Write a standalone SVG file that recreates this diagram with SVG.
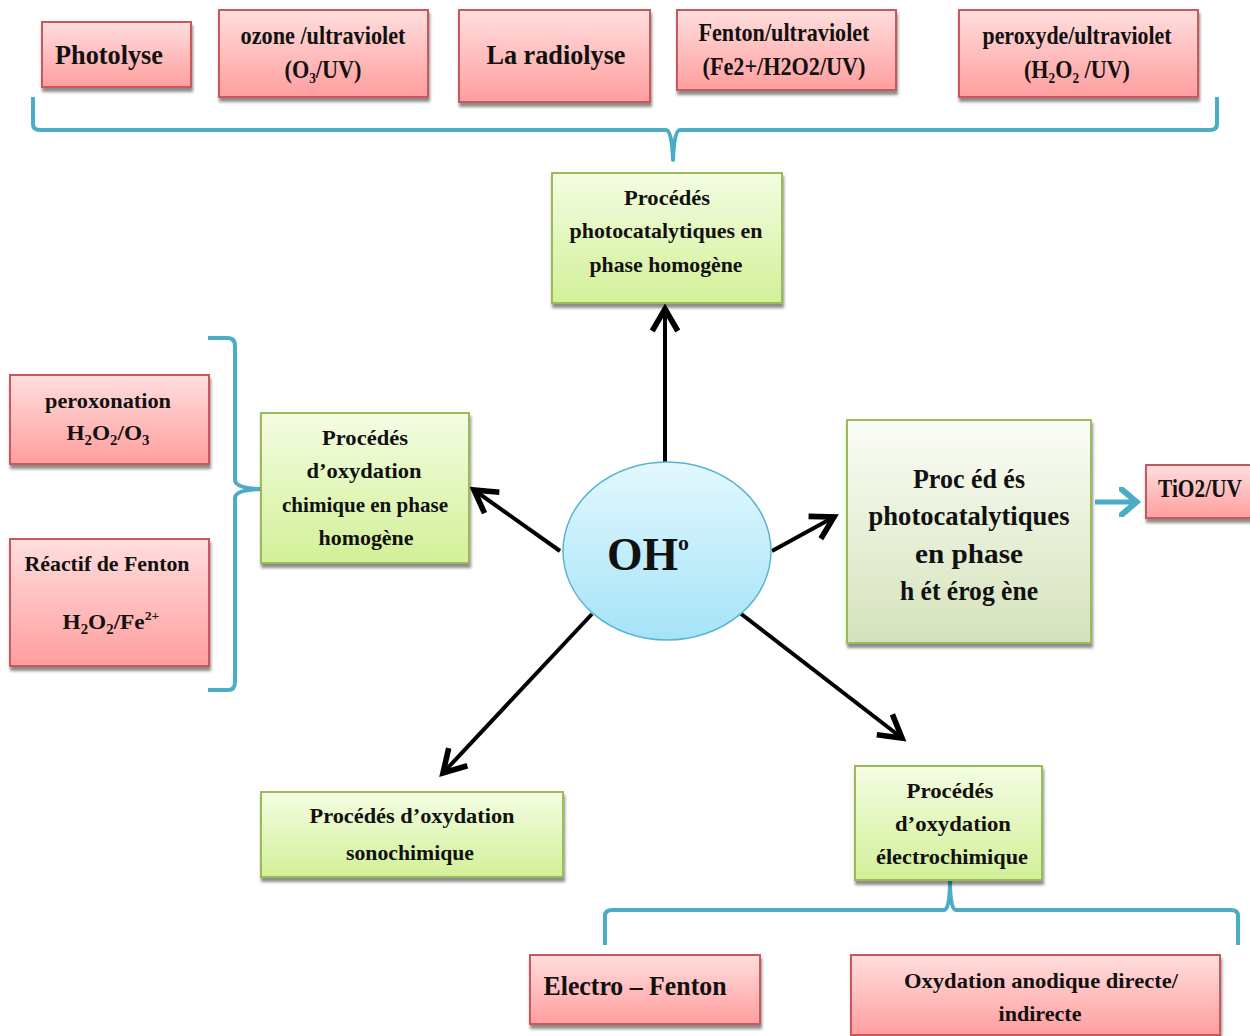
<svg xmlns="http://www.w3.org/2000/svg" width="1250" height="1036" viewBox="0 0 1250 1036">
<defs>
<linearGradient id="gRed" x1="0" y1="0" x2="0" y2="1"><stop offset="0" stop-color="#ffdede"/><stop offset="1" stop-color="#ff9e9e"/></linearGradient>
<linearGradient id="gGreen" x1="0" y1="0" x2="0" y2="1"><stop offset="0" stop-color="#f4fde2"/><stop offset="1" stop-color="#d2f098"/></linearGradient>
<linearGradient id="gGreen2" x1="0" y1="0" x2="0" y2="1"><stop offset="0" stop-color="#fbfdf6"/><stop offset="1" stop-color="#d5e2bb"/></linearGradient>
<linearGradient id="gBlue" x1="0" y1="0" x2="0" y2="1"><stop offset="0" stop-color="#e2f8fe"/><stop offset="1" stop-color="#a6e3f8"/></linearGradient>
<filter id="sh" x="-10%" y="-10%" width="125%" height="130%"><feDropShadow dx="1" dy="4" stdDeviation="1.5" flood-color="#000" flood-opacity="0.45"/></filter>
<marker id="ah" markerWidth="8" markerHeight="8" refX="6" refY="4" orient="auto" markerUnits="strokeWidth"><path d="M0.5,0.8 L6,4 L0.5,7.2" fill="none" stroke="#000" stroke-width="1.4"/></marker>
<marker id="bh" markerWidth="6" markerHeight="6" refX="3" refY="3" orient="auto" markerUnits="strokeWidth"><path d="M0,0 L3.5,3 L0,6" fill="none" stroke="#4bacc6" stroke-width="1.2"/></marker>
</defs>
<style>
.red{fill:url(#gRed);stroke:#c8585a;stroke-width:2;filter:url(#sh)}
.grn{fill:url(#gGreen);stroke:#9bbb59;stroke-width:2;filter:url(#sh)}
.grn2{fill:url(#gGreen2);stroke:#9bbb59;stroke-width:2;filter:url(#sh)}
text{font-family:"Liberation Serif","Times New Roman",serif;font-weight:bold;fill:#111;text-anchor:middle}
.t24{font-size:25px}
.t22{font-size:22px}
.t26{font-size:27px}
.brace{fill:none;stroke:#4bacc6;stroke-width:4;stroke-linejoin:round}
.arr{fill:none;stroke:#000;stroke-width:4;marker-end:url(#ah)}
</style>
<rect width="1250" height="1036" fill="#fff"/>

<g id="connectors">
<path class="brace" d="M33,97 L33,124 Q33,130 40,130 L666,130 Q672,130 673,160 Q674,130 680,130 L1210,130 Q1217,130 1217,124 L1217,97"/>
<path class="brace" d="M208,338 L228,338 Q235,338 235,346 L235,480 Q235,488 260,489 Q235,490 235,498 L235,682 Q235,690 228,690 L208,690"/>
<path class="brace" d="M605,945 L605,916 Q605,910 612,910 L944,910 Q950,910 950,880 Q950,910 956,910 L1231,910 Q1238,910 1238,916 L1238,945"/>
<line class="arr" x1="665" y1="462" x2="665" y2="309"/>
<line class="arr" x1="560" y1="551" x2="474" y2="490"/>
<line class="arr" x1="772" y1="551" x2="834" y2="517"/>
<line class="arr" x1="592" y1="614" x2="443" y2="773"/>
<line class="arr" x1="740" y1="613" x2="902" y2="738"/>
<line x1="1095" y1="502" x2="1134" y2="502" stroke="#4bacc6" stroke-width="5" marker-end="url(#bh)"/>
</g>

<g id="n-photolyse"><rect class="red" x="42" y="22" width="149" height="65"/><text class="t26" x="109" y="64" textLength="108" lengthAdjust="spacingAndGlyphs">Photolyse</text></g>
<g id="n-ozone"><rect class="red" x="219" y="10" width="209" height="87"/><text class="t24" x="323" y="44" textLength="165" lengthAdjust="spacingAndGlyphs">ozone /ultraviolet</text><text class="t24" x="323" y="78" textLength="77" lengthAdjust="spacingAndGlyphs">(O<tspan font-size="15" baseline-shift="-5">3</tspan>/UV)</text></g>
<g id="n-radiolyse"><rect class="red" x="459" y="10" width="191" height="92"/><text class="t26" x="556" y="64" textLength="139" lengthAdjust="spacingAndGlyphs">La radiolyse</text></g>
<g id="n-fentonuv"><rect class="red" x="677" y="10" width="219" height="80"/><text class="t24" x="784" y="41" textLength="171" lengthAdjust="spacingAndGlyphs">Fenton/ultraviolet</text><text class="t24" x="784" y="75" textLength="163" lengthAdjust="spacingAndGlyphs">(Fe2+/H2O2/UV)</text></g>
<g id="n-peroxyde"><rect class="red" x="959" y="10" width="239" height="87"/><text class="t24" x="1077" y="44" textLength="189" lengthAdjust="spacingAndGlyphs">peroxyde/ultraviolet</text><text class="t24" x="1077" y="78" textLength="106" lengthAdjust="spacingAndGlyphs">(H<tspan font-size="15" baseline-shift="-5">2</tspan>O<tspan font-size="15" baseline-shift="-5">2</tspan> /UV)</text></g>

<g id="n-photohomo"><rect class="grn" x="552" y="173" width="230" height="130"/><text class="t22" x="667" y="205" textLength="86" lengthAdjust="spacingAndGlyphs">Procédés</text><text class="t22" x="666" y="238" textLength="193" lengthAdjust="spacingAndGlyphs">photocatalytiques en</text><text class="t22" x="666" y="272" textLength="153" lengthAdjust="spacingAndGlyphs">phase homogène</text></g>

<g id="n-peroxonation"><rect class="red" x="10" y="375" width="199" height="89"/><text class="t22" x="108" y="408" textLength="126" lengthAdjust="spacingAndGlyphs">peroxonation</text><text class="t22" x="108" y="440" textLength="83" lengthAdjust="spacingAndGlyphs">H<tspan font-size="14" baseline-shift="-5">2</tspan>O<tspan font-size="14" baseline-shift="-5">2</tspan>/O<tspan font-size="14" baseline-shift="-5">3</tspan></text></g>
<g id="n-fenton"><rect class="red" x="10" y="539" width="199" height="127"/><text class="t22" x="107" y="571" textLength="165" lengthAdjust="spacingAndGlyphs">Réactif de Fenton</text><text class="t22" x="111" y="629" textLength="97" lengthAdjust="spacingAndGlyphs">H<tspan font-size="14" baseline-shift="-5">2</tspan>O<tspan font-size="14" baseline-shift="-5">2</tspan>/Fe<tspan font-size="13" baseline-shift="9">2+</tspan></text></g>

<g id="n-chimique"><rect class="grn" x="261" y="413" width="208" height="150"/><text class="t22" x="365" y="445" textLength="86" lengthAdjust="spacingAndGlyphs">Procédés</text><text class="t22" x="364" y="478" textLength="115" lengthAdjust="spacingAndGlyphs">d’oxydation</text><text class="t22" x="365" y="512" textLength="166" lengthAdjust="spacingAndGlyphs">chimique en phase</text><text class="t22" x="366" y="545" textLength="95" lengthAdjust="spacingAndGlyphs">homogène</text></g>

<g id="n-oh"><ellipse cx="667" cy="551" rx="104" ry="89" fill="url(#gBlue)" stroke="#5ab4d0" stroke-width="1.5"/><text x="648" y="570" font-size="46" textLength="82" lengthAdjust="spacingAndGlyphs">OH<tspan font-size="22" baseline-shift="20">o</tspan></text></g>

<g id="n-photohetero"><rect class="grn2" x="847" y="420" width="244" height="223"/><text class="t26" x="969" y="488" textLength="112" lengthAdjust="spacingAndGlyphs">Proc éd és</text><text class="t26" x="969" y="525" textLength="201" lengthAdjust="spacingAndGlyphs">photocatalytiques</text><text class="t26" x="969" y="563" textLength="108" lengthAdjust="spacingAndGlyphs">en phase</text><text class="t26" x="969" y="600" textLength="138" lengthAdjust="spacingAndGlyphs">h ét érog ène</text></g>

<g id="n-tio2"><rect class="red" x="1146" y="465" width="110" height="53"/><text class="t24" x="1200" y="497" textLength="84" lengthAdjust="spacingAndGlyphs">TiO2/UV</text></g>

<g id="n-sono"><rect class="grn" x="261" y="792" width="302" height="85"/><text class="t22" x="412" y="823" textLength="205" lengthAdjust="spacingAndGlyphs">Procédés d’oxydation</text><text class="t22" x="410" y="860" textLength="128" lengthAdjust="spacingAndGlyphs">sonochimique</text></g>

<g id="n-electro"><rect class="grn" x="855" y="766" width="187" height="114"/><text class="t22" x="950" y="798" textLength="87" lengthAdjust="spacingAndGlyphs">Procédés</text><text class="t22" x="953" y="831" textLength="116" lengthAdjust="spacingAndGlyphs">d’oxydation</text><text class="t22" x="952" y="864" textLength="152" lengthAdjust="spacingAndGlyphs">électrochimique</text></g>

<g id="n-electrofenton"><rect class="red" x="530" y="955" width="230" height="69"/><text class="t26" x="635" y="995" textLength="183" lengthAdjust="spacingAndGlyphs">Electro – Fenton</text></g>
<g id="n-anodique"><rect class="red" x="851" y="955" width="369" height="80"/><text class="t22" x="1041" y="988" textLength="274" lengthAdjust="spacingAndGlyphs">Oxydation anodique directe/</text><text class="t22" x="1040" y="1021" textLength="83" lengthAdjust="spacingAndGlyphs">indirecte</text></g>
</svg>
